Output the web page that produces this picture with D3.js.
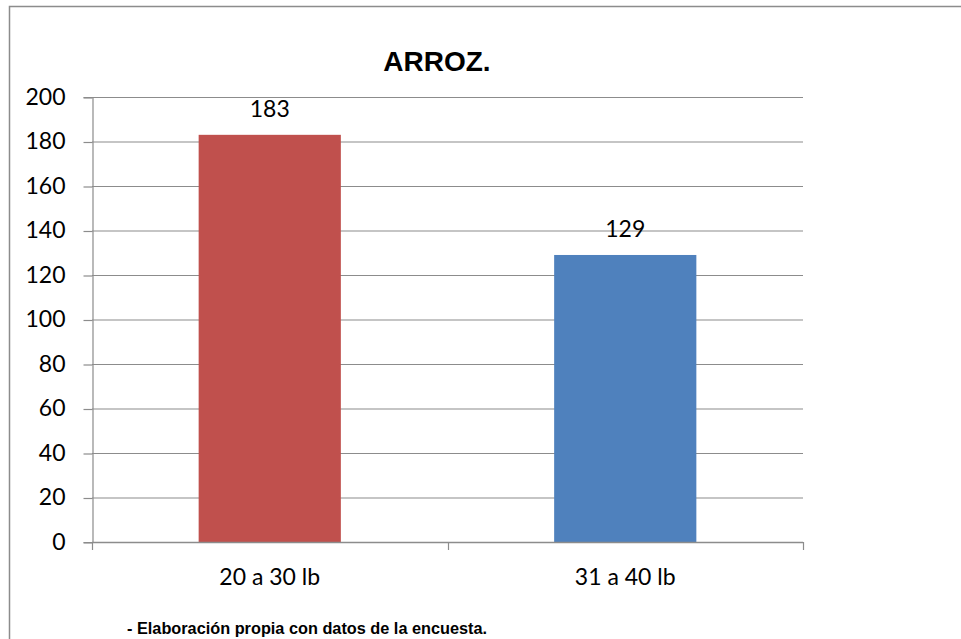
<!DOCTYPE html>
<html>
<head>
<meta charset="utf-8">
<script src="https://cdn.jsdelivr.net/npm/d3@7"></script>
<style>
  body { margin: 0; background: #fff; }
</style>
</head>
<body>
<svg id="chart"></svg>
<script>
// --- data ---
const categories = ["20 a 30 lb", "31 a 40 lb"];
const values = [183, 129];
const barColors = ["#C0504D", "#4F81BD"];
const yTicks = [0, 20, 40, 60, 80, 100, 120, 140, 160, 180, 200];
const titleText = "ARROZ.";
const noteText = "- Elaboración propia con datos de la encuesta.";

const width = 961, height = 639;
const plot = { left: 92, right: 803, top: 97, bottom: 542 };
const labelFont = "Lato, 'Open Sans', sans-serif";

const svg = d3.select("#chart")
    .attr("width", width)
    .attr("height", height);

// outer frame (runs off the right and bottom edges)
svg.append("rect")
    .attr("x", 9.5).attr("y", 6.5)
    .attr("width", 1000).attr("height", 700)
    .attr("fill", "none")
    .attr("stroke", "#8c8c8c")
    .attr("stroke-width", 1.5);

// scales
const x = d3.scaleBand()
    .domain(categories)
    .range([plot.left, plot.right])
    .paddingInner(0.6)
    .paddingOuter(0.3);

const y = d3.scaleLinear()
    .domain([0, 200])
    .range([plot.bottom, plot.top]);

// gridlines
svg.append("g")
    .selectAll("line")
    .data(yTicks.filter(d => d > 0))
    .join("line")
    .attr("x1", plot.left).attr("x2", plot.right)
    .attr("y1", d => y(d) + 0.5).attr("y2", d => y(d) + 0.5)
    .attr("stroke", "#8c8c8c")
    .attr("stroke-width", 1.2);

// y axis
const yAxis = svg.append("g")
    .attr("transform", `translate(${plot.left + 0.5},0)`)
    .call(d3.axisLeft(y).tickValues(yTicks).tickSize(9).tickPadding(18));
yAxis.select(".domain").attr("stroke", "#8c8c8c").attr("stroke-width", 1.2);
yAxis.selectAll(".tick line").attr("stroke", "#8c8c8c").attr("stroke-width", 1.2)
    .attr("transform", "translate(0,0.5)");
yAxis.selectAll(".tick text")
    .attr("fill", "#000")
    .style("font-family", labelFont)
    .style("font-size", "23px")
    .attr("dy", "0.32em");

// bars
svg.append("g")
    .selectAll("rect")
    .data(values)
    .join("rect")
    .attr("x", (d, i) => x(categories[i]))
    .attr("y", d => y(d))
    .attr("width", x.bandwidth())
    .attr("height", d => y(0) - y(d))
    .attr("fill", (d, i) => barColors[i]);

// x axis with ticks at band edges
const xEdges = [plot.left, ...categories.map(c => x(c) + x.bandwidth() + x.step() * x.paddingInner() / 2)];
const xAxis = svg.append("g");
xAxis.append("line")
    .attr("x1", plot.left).attr("x2", plot.right)
    .attr("y1", plot.bottom + 0.5).attr("y2", plot.bottom + 0.5)
    .attr("stroke", "#8c8c8c").attr("stroke-width", 1.5);
xAxis.selectAll(".xtick")
    .data(xEdges)
    .join("line")
    .attr("class", "xtick")
    .attr("x1", d => Math.round(d) + 0.5).attr("x2", d => Math.round(d) + 0.5)
    .attr("y1", plot.bottom).attr("y2", plot.bottom + 8)
    .attr("stroke", "#8c8c8c").attr("stroke-width", 1.2);
xAxis.selectAll(".xlabel")
    .data(categories)
    .join("text")
    .attr("class", "xlabel")
    .attr("x", d => x(d) + x.bandwidth() / 2)
    .attr("y", 585)
    .attr("text-anchor", "middle")
    .style("font-family", labelFont)
    .style("font-size", "23px")
    .text(d => d);

// value labels
svg.append("g")
    .selectAll("text")
    .data(values)
    .join("text")
    .attr("x", (d, i) => x(categories[i]) + x.bandwidth() / 2)
    .attr("y", d => y(d) - 18)
    .attr("text-anchor", "middle")
    .style("font-family", labelFont)
    .style("font-size", "23px")
    .text(d => d);

// title
svg.append("text")
    .attr("x", 437)
    .attr("y", 71)
    .attr("text-anchor", "middle")
    .style("font-family", "'Liberation Sans', Arial, sans-serif")
    .style("font-weight", "bold")
    .style("font-size", "28px")
    .text(titleText);

// source note
svg.append("text")
    .attr("x", 127)
    .attr("y", 634)
    .style("font-family", "'Liberation Sans', Arial, sans-serif")
    .style("font-weight", "bold")
    .style("font-size", "16.3px")
    .text(noteText);
</script>
</body>
</html>
